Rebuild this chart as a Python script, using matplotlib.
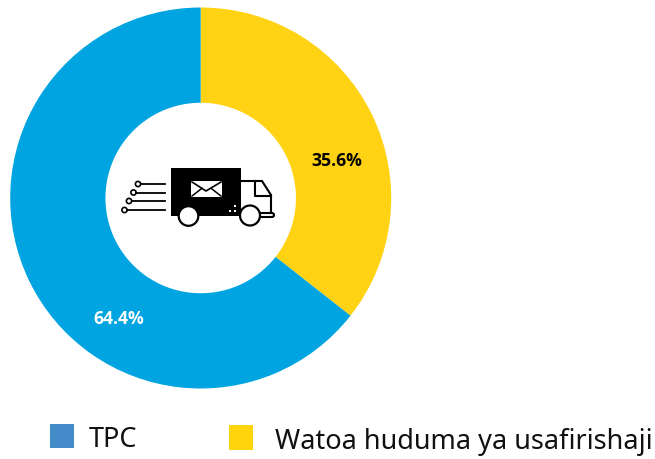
import matplotlib
matplotlib.use("Agg")
import matplotlib.pyplot as plt
from matplotlib.patches import Rectangle, Circle, FancyBboxPatch

categories = ["TPC", "Watoa huduma ya usafirishaji"]
values = [64.4, 35.6]
colors = ["#00A4E0", "#FFD213"]
legend_colors = ["#428BC8", "#FFD40A"]
value_labels = ["64.4%", "35.6%"]

W, H = 655, 459
plt.rcParams["font.family"] = ["Noto Sans", "DejaVu Sans"]
fig = plt.figure(figsize=(W / 100, H / 100), dpi=100)

# Donut
cx, cy, R = 200.7, 198, 190.5
axp = fig.add_axes([(cx - R) / W, 1 - (cy + R) / H, 2 * R / W, 2 * R / H])
axp.pie(values[::-1], colors=colors[::-1], startangle=90, counterclock=False,
        radius=1, wedgeprops=dict(width=0.5, linewidth=0))
axp.set_xlim(-1, 1)
axp.set_ylim(-1, 1)
axp.axis("off")

# Overlay in pixel coordinates
ax = fig.add_axes([0, 0, 1, 1], zorder=5)
ax.set_xlim(0, W)
ax.set_ylim(H, 0)
ax.axis("off")

ax.text(118.5, 318.5, value_labels[0], color="white", fontsize=12.7, fontweight="bold",
        family=["Open Sans", "DejaVu Sans"], ha="center", va="center")
ax.text(337, 161, value_labels[1], color="black", fontsize=12.7, fontweight="bold",
        family=["Open Sans", "DejaVu Sans"], ha="center", va="center")

# Legend
ax.add_patch(Rectangle((50, 424), 24, 24, fc=legend_colors[0], lw=0))
ax.add_patch(Rectangle((229, 425), 24, 25, fc=legend_colors[1], lw=0))
ax.text(89, 440, categories[0], fontsize=19.5, color="#111111", ha="left", va="center")
ax.text(275, 442, categories[1], fontsize=19.5, color="#111111", ha="left", va="center")

# Truck icon
lw = 1.5
ax.plot([241, 262, 271, 271], [181, 181, 195, 213], color="k", lw=lw, solid_joinstyle="miter")
ax.plot([255, 255, 271], [181, 196, 196], color="k", lw=lw)
ax.add_patch(FancyBboxPatch((256, 213), 18, 4, boxstyle="round,pad=0,rounding_size=2",
                            fc="white", ec="k", lw=lw))
ax.add_patch(Rectangle((171, 168), 70, 48, fc="k", lw=0))
ax.add_patch(Rectangle((191, 181), 31, 16, fc="white", lw=0))
ax.plot([192, 206, 221], [182, 191, 182], color="k", lw=1.2)
ax.plot([192, 201], [196, 189], color="k", lw=1.1)
ax.plot([221, 212], [196, 189], color="k", lw=1.1)
ax.add_patch(Circle((188.5, 216), 9.8, fc="white", ec="k", lw=1.6, zorder=4))
ax.add_patch(Circle((250, 215.5), 10, fc="white", ec="k", lw=1.6, zorder=4))
for px, py in [(230, 211), (235, 211), (235, 206)]:
    ax.add_patch(Rectangle((px - 1, py - 1), 2, 2, fc="white", lw=0, zorder=4))
for yy, xc in [(184, 138), (192.5, 133.5), (201, 129), (210, 124.5)]:
    ax.plot([xc + 2.5, 165], [yy, yy], color="k", lw=1.3)
    ax.add_patch(Circle((xc, yy), 2.6, fc="white", ec="k", lw=1.2))

fig.savefig("out.png", dpi=100, facecolor="white")
